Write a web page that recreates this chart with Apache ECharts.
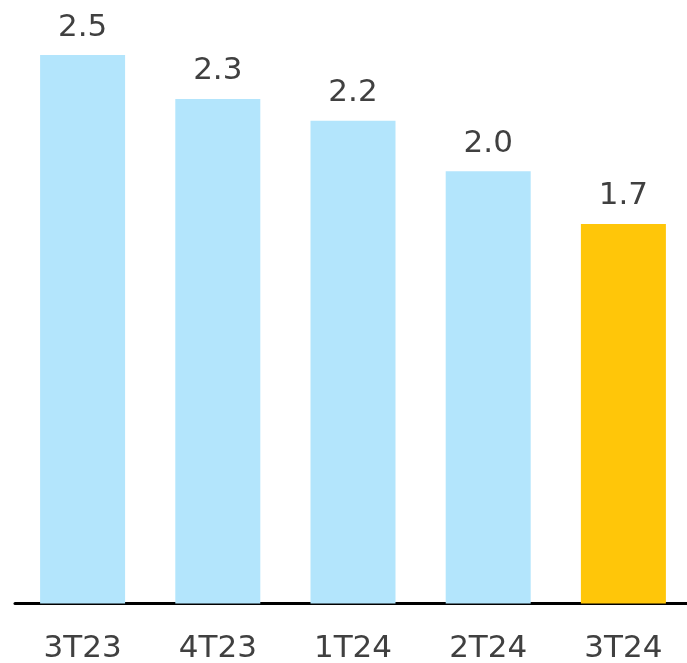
<!DOCTYPE html>
<html>
<head>
<meta charset="utf-8">
<script src="https://cdn.jsdelivr.net/npm/echarts@6/dist/echarts.min.js"></script>
<style>
html, body { margin: 0; padding: 0; background: #fff; }
#chart { width: 687px; height: 663px; }
</style>
</head>
<body>
<div id="chart"></div>
<script>
// trimestres
const categories = ['3T23', '4T23', '1T24', '2T24', '3T24']
const values = [2.5, 2.3, 2.2, 1.97, 1.73]
const colors = ['#b3e5fc', '#b3e5fc', '#b3e5fc', '#b3e5fc', '#ffc609']

const myChart = echarts.init(document.getElementById('chart'))
const option = {
	animation: false,
	grid: {
		left: 15,
		right: -4,
		top: 55,
		bottom: 59.5,
		outerBoundsMode: 'none',
		containLabel: false
	},
	xAxis: {
		type: 'category',
		data: categories,
		axisTick: { show: false },
		axisLine: {
			lineStyle: { color: '#000', width: 3 }
		},
		axisLabel: {
			color: '#404040',
			fontFamily: 'DejaVu Sans',
			fontSize: 31,
			margin: 30
		}
	},
	yAxis: {
		type: 'value',
		min: 0,
		max: 2.5,
		show: false,
		splitLine: { show: false }
	},
	series: [{
		type: 'bar',
		barWidth: 85,
		data: values.map((v, i) => ({ value: v, itemStyle: { color: colors[i] } })),
		label: {
			show: true,
			position: 'top',
			distance: 12,
			color: '#404040',
			fontFamily: 'DejaVu Sans',
			fontSize: 31,
			formatter: p => p.value.toFixed(1)
		}
	}]
}
myChart.setOption(option)
</script>
</body>
</html>
